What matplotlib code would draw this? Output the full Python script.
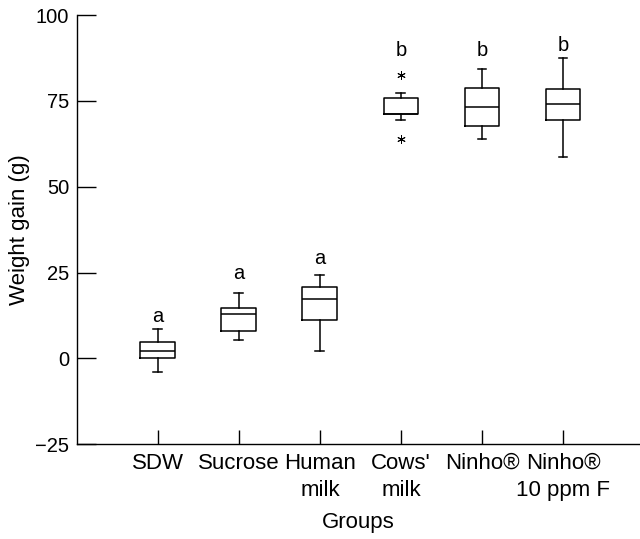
import matplotlib
matplotlib.use("Agg")
import matplotlib.pyplot as plt

plt.rcParams['font.family'] = ['Liberation Sans', 'DejaVu Sans']

# groups and box statistics (g)
groups = ["SDW", "Sucrose", "Human\nmilk", "Cows'\nmilk", "Ninho\u00ae", "Ninho\u00ae\n10 ppm F"]
whislo = [-3.9, 5.3, 2.0, 69.3, 63.8, 58.7]
q1 = [0.0, 7.9, 11.3, 71.3, 67.6, 69.5]
med = [2.2, 12.9, 17.2, 71.3, 73.2, 74.2]
q3 = [4.75, 14.8, 20.9, 75.7, 78.9, 78.5]
whishi = [8.6, 19.0, 24.2, 77.4, 84.4, 87.5]
fliers = [[], [], [], [82.5, 64.0], [], []]

# significance letters and where they sit
letters = ["a", "a", "a", "b", "b", "b"]
letter_y = [12.2, 24.8, 29.1, 89.7, 89.7, 91.2]

stats = []
for i in range(len(groups)):
    stats.append(dict(whislo=whislo[i], q1=q1[i], med=med[i], q3=q3[i],
                      whishi=whishi[i], fliers=fliers[i]))

fig = plt.figure(figsize=(6.4, 5.39), dpi=100)
ax = fig.add_axes([0.120, 0.176, 0.880, 0.796])

pos = list(range(1, len(groups) + 1))
lw = 1.1
ax.bxp(stats, positions=pos, widths=0.43, capwidths=0.11,
       boxprops=dict(color='black', linewidth=lw),
       medianprops=dict(color='black', linewidth=lw),
       whiskerprops=dict(color='black', linewidth=lw),
       capprops=dict(color='black', linewidth=lw),
       flierprops=dict(marker=(6, 2, 0), markersize=6, markeredgecolor='black',
                       markeredgewidth=0.7, markerfacecolor='none'))

for x, t, y in zip(pos, letters, letter_y):
    ax.text(x, y, t, ha='center', va='center', fontsize=14.5)

ax.set_xlim(0, 6.95)
ax.set_ylim(-25, 100)
ax.set_yticks([-25, 0, 25, 50, 75, 100])
ax.set_yticklabels(["\u221225", "0", "25", "50", "75", "100"])
ax.set_xticks(pos)
ax.set_xticklabels(groups, linespacing=1.35)

ax.spines['top'].set_visible(False)
ax.spines['right'].set_visible(False)
ax.spines['left'].set_linewidth(1.0)
ax.spines['bottom'].set_linewidth(1.0)
ax.tick_params(axis='y', direction='in', length=13.5, width=1.0, pad=5.5, labelsize=14.5)
ax.tick_params(axis='x', direction='in', length=10, width=1.0, pad=6.5, labelsize=16)

ax.set_ylabel("Weight gain (g)", fontsize=16, labelpad=4)
ax.set_xlabel("Groups", fontsize=16, labelpad=8)

fig.savefig("out.png", dpi=100)
